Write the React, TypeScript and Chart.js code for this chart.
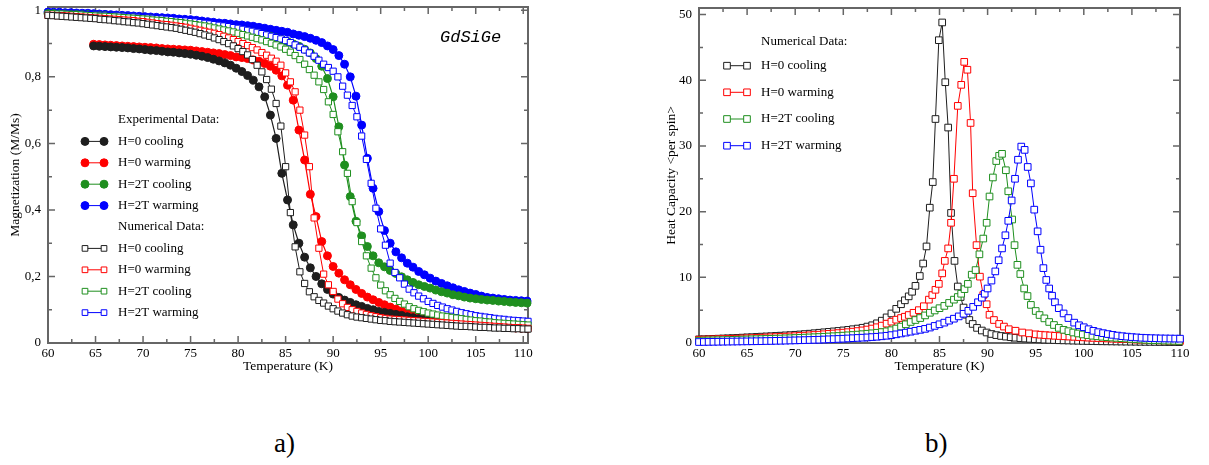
import React, { useEffect, useRef } from "react";
import { Chart, registerables } from "chart.js";

Chart.register(...registerables);

const SERIF = '"Liberation Serif", "Times New Roman", serif';
const MONO = '"Liberation Mono", "DejaVu Sans Mono", monospace';
const AXIS = "#666666";
const BLACK = "#1e1e1e";
const RED = "#ff0000";
const GREEN = "#1f8f1f";
const BLUE = "#0000ff";

// ---------- axes ----------
const xTickValues = [60, 65, 70, 75, 80, 85, 90, 95, 100, 105, 110];
const xMinorValues = [62.5, 67.5, 72.5, 77.5, 82.5, 87.5, 92.5, 97.5, 102.5, 107.5];
const yTickValuesA = [0, 0.2, 0.4, 0.6, 0.8, 1];
const yTickLabelsA = ["0", "0,2", "0,4", "0,6", "0,8", "1"];
const yMinorValuesA = [0.1, 0.3, 0.5, 0.7, 0.9];
const yTickValuesB = [0, 10, 20, 30, 40, 50];
const yTickLabelsB = ["0", "10", "20", "30", "40", "50"];
const yMinorValuesB = [5, 15, 25, 35, 45];

const seriesNames = ["H=0 cooling", "H=0 warming", "H=2T cooling", "H=2T warming"];

// ---------- panel a: experimental (filled circles) ----------
const tempExp = [
  60.0, 60.6, 61.2, 61.8, 62.4, 63.0, 63.6, 64.2, 64.8, 65.4,
  66.0, 66.6, 67.2, 67.8, 68.4, 69.0, 69.6, 70.2, 70.8, 71.4,
  72.0, 72.6, 73.2, 73.8, 74.4, 75.0, 75.6, 76.2, 76.8, 77.4,
  78.0, 78.6, 79.2, 79.8, 80.4, 81.0, 81.6, 82.2, 82.8, 83.4,
  84.0, 84.6, 85.2, 85.8, 86.4, 87.0, 87.6, 88.2, 88.8, 89.4,
  90.0, 90.6, 91.2, 91.8, 92.4, 93.0, 93.6, 94.2, 94.8, 95.4,
  96.0, 96.6, 97.2, 97.8, 98.4, 99.0, 99.6, 100.2, 100.8, 101.4,
  102.0, 102.6, 103.2, 103.8, 104.4, 105.0, 105.6, 106.2, 106.8, 107.4,
  108.0, 108.6, 109.2, 109.8, 110.4,
];
// H=0 series start at 64.8 K
const tempExpH0 = [
  64.8, 65.4, 66.0, 66.6, 67.2, 67.8, 68.4, 69.0, 69.6, 70.2,
  70.8, 71.4, 72.0, 72.6, 73.2, 73.8, 74.4, 75.0, 75.6, 76.2,
  76.8, 77.4, 78.0, 78.6, 79.2, 79.8, 80.4, 81.0, 81.6, 82.2,
  82.8, 83.4, 84.0, 84.6, 85.2, 85.8, 86.4, 87.0, 87.6, 88.2,
  88.8, 89.4, 90.0, 90.6, 91.2, 91.8, 92.4, 93.0, 93.6, 94.2,
  94.8, 95.4, 96.0, 96.6, 97.2, 97.8, 98.4, 99.0, 99.6, 100.2,
  100.8, 101.4, 102.0, 102.6, 103.2, 103.8, 104.4, 105.0, 105.6, 106.2,
  106.8, 107.4, 108.0, 108.6, 109.2, 109.8, 110.4,
];
const expH0Cooling = [
  0.893, 0.892, 0.891, 0.890, 0.889, 0.888, 0.887, 0.885, 0.884, 0.882,
  0.880, 0.879, 0.877, 0.875, 0.874, 0.872, 0.870, 0.868, 0.865, 0.862,
  0.858, 0.853, 0.848, 0.842, 0.835, 0.826, 0.816, 0.804, 0.790, 0.770,
  0.740, 0.685, 0.615, 0.510, 0.430, 0.355, 0.300, 0.258, 0.226, 0.200,
  0.178, 0.161, 0.147, 0.137, 0.129, 0.122, 0.115, 0.110, 0.104, 0.100,
  0.095, 0.092, 0.089, 0.086, 0.083, 0.079, 0.076, 0.073, 0.071, 0.068,
  0.066, 0.064, 0.062, 0.060, 0.058, 0.057, 0.055, 0.054, 0.052, 0.051,
  0.050, 0.049, 0.048, 0.047, 0.046, 0.045, 0.044,
];
const expH0Warming = [
  0.898, 0.897, 0.896, 0.895, 0.894, 0.893, 0.892, 0.891, 0.890, 0.889,
  0.888, 0.887, 0.885, 0.884, 0.883, 0.882, 0.881, 0.880, 0.878, 0.876,
  0.874, 0.872, 0.870, 0.867, 0.864, 0.860, 0.858, 0.855, 0.851, 0.847,
  0.840, 0.832, 0.820, 0.803, 0.775, 0.730, 0.640, 0.550, 0.447, 0.380,
  0.305, 0.262, 0.230, 0.210, 0.190, 0.175, 0.161, 0.149, 0.138, 0.130,
  0.122, 0.115, 0.108, 0.102, 0.096, 0.091, 0.086, 0.081, 0.077, 0.074,
  0.071, 0.068, 0.065, 0.063, 0.061, 0.059, 0.057, 0.055, 0.053, 0.052,
  0.050, 0.049, 0.047, 0.046, 0.045, 0.044, 0.043,
];
const exp2TCooling = [
  0.990, 0.990, 0.989, 0.989, 0.988, 0.988, 0.987, 0.987, 0.986, 0.985,
  0.984, 0.983, 0.982, 0.981, 0.980, 0.979, 0.977, 0.976, 0.975, 0.973,
  0.972, 0.970, 0.968, 0.966, 0.964, 0.962, 0.960, 0.958, 0.956, 0.954,
  0.952, 0.949, 0.946, 0.943, 0.940, 0.937, 0.934, 0.930, 0.926, 0.922,
  0.917, 0.912, 0.906, 0.899, 0.892, 0.883, 0.872, 0.855, 0.832, 0.795,
  0.740, 0.650, 0.535, 0.440, 0.366, 0.322, 0.290, 0.262, 0.241, 0.229,
  0.218, 0.209, 0.199, 0.190, 0.182, 0.175, 0.170, 0.165, 0.159, 0.154,
  0.150, 0.145, 0.142, 0.138, 0.135, 0.133, 0.131, 0.129, 0.128, 0.126,
  0.125, 0.123, 0.122, 0.121, 0.120,
];
const exp2TWarming = [
  0.995, 0.994, 0.994, 0.993, 0.993, 0.992, 0.991, 0.991, 0.990, 0.989,
  0.988, 0.987, 0.986, 0.985, 0.984, 0.983, 0.982, 0.981, 0.980, 0.979,
  0.978, 0.977, 0.976, 0.974, 0.973, 0.972, 0.970, 0.968, 0.966, 0.964,
  0.962, 0.961, 0.959, 0.957, 0.956, 0.954, 0.952, 0.949, 0.946, 0.943,
  0.940, 0.937, 0.934, 0.929, 0.925, 0.921, 0.916, 0.910, 0.903, 0.893,
  0.882, 0.864, 0.838, 0.800, 0.742, 0.655, 0.555, 0.465, 0.395, 0.338,
  0.300, 0.274, 0.256, 0.240, 0.228, 0.215, 0.205, 0.195, 0.186, 0.179,
  0.172, 0.166, 0.160, 0.155, 0.150, 0.146, 0.141, 0.137, 0.135, 0.133,
  0.131, 0.129, 0.128, 0.127, 0.126,
];

// ---------- panel a: numerical (open squares) ----------
const tempNum = [
  60, 60.5, 61, 61.5, 62, 62.5, 63, 63.5, 64, 64.5,
  65, 65.5, 66, 66.5, 67, 67.5, 68, 68.5, 69, 69.5,
  70, 70.5, 71, 71.5, 72, 72.5, 73, 73.5, 74, 74.5,
  75, 75.5, 76, 76.5, 77, 77.5, 78, 78.5, 79, 79.5,
  80, 80.5, 81, 81.5, 82, 82.5, 83, 83.5, 84, 84.5,
  85, 85.5, 86, 86.5, 87, 87.5, 88, 88.5, 89, 89.5,
  90, 90.5, 91, 91.5, 92, 92.5, 93, 93.5, 94, 94.5,
  95, 95.5, 96, 96.5, 97, 97.5, 98, 98.5, 99, 99.5,
  100, 100.5, 101, 101.5, 102, 102.5, 103, 103.5, 104, 104.5,
  105, 105.5, 106, 106.5, 107, 107.5, 108, 108.5, 109, 109.5,
  110, 110.5,
];
const numH0Cooling = [
  0.985, 0.984, 0.983, 0.982, 0.981, 0.980, 0.979, 0.978, 0.977, 0.976,
  0.975, 0.973, 0.972, 0.971, 0.969, 0.968, 0.966, 0.965, 0.963, 0.962,
  0.960, 0.958, 0.956, 0.954, 0.952, 0.950, 0.948, 0.946, 0.943, 0.940,
  0.937, 0.934, 0.930, 0.926, 0.922, 0.917, 0.912, 0.906, 0.900, 0.893,
  0.885, 0.876, 0.866, 0.852, 0.835, 0.815, 0.792, 0.763, 0.720, 0.652,
  0.530, 0.392, 0.289, 0.214, 0.179, 0.154, 0.139, 0.128, 0.120, 0.111,
  0.103, 0.096, 0.090, 0.085, 0.081, 0.078, 0.076, 0.074, 0.072, 0.070,
  0.068, 0.067, 0.065, 0.064, 0.063, 0.062, 0.061, 0.060, 0.059, 0.058,
  0.057, 0.056, 0.055, 0.054, 0.053, 0.052, 0.051, 0.050, 0.050, 0.049,
  0.048, 0.047, 0.047, 0.046, 0.045, 0.045, 0.044, 0.044, 0.043, 0.043,
  0.042, 0.042,
];
const numH0Warming = [
  0.985, 0.985, 0.984, 0.984, 0.983, 0.982, 0.981, 0.980, 0.979, 0.978,
  0.977, 0.976, 0.975, 0.974, 0.973, 0.972, 0.971, 0.970, 0.969, 0.967,
  0.966, 0.964, 0.962, 0.960, 0.958, 0.957, 0.955, 0.953, 0.951, 0.949,
  0.946, 0.943, 0.940, 0.937, 0.934, 0.931, 0.927, 0.922, 0.917, 0.912,
  0.906, 0.900, 0.894, 0.888, 0.881, 0.873, 0.865, 0.856, 0.847, 0.835,
  0.812, 0.785, 0.755, 0.700, 0.625, 0.530, 0.376, 0.285, 0.207, 0.175,
  0.155, 0.132, 0.118, 0.107, 0.100, 0.095, 0.090, 0.086, 0.082, 0.079,
  0.076, 0.074, 0.072, 0.071, 0.070, 0.069, 0.068, 0.067, 0.066, 0.065,
  0.064, 0.063, 0.062, 0.061, 0.060, 0.059, 0.058, 0.057, 0.056, 0.055,
  0.054, 0.053, 0.052, 0.051, 0.050, 0.049, 0.048, 0.047, 0.046, 0.046,
  0.045, 0.044,
];
const num2TCooling = [
  0.990, 0.990, 0.989, 0.989, 0.988, 0.987, 0.987, 0.986, 0.985, 0.984,
  0.983, 0.982, 0.982, 0.981, 0.980, 0.979, 0.978, 0.977, 0.976, 0.975,
  0.974, 0.973, 0.971, 0.970, 0.969, 0.967, 0.966, 0.964, 0.963, 0.961,
  0.959, 0.957, 0.955, 0.953, 0.950, 0.947, 0.944, 0.941, 0.938, 0.935,
  0.931, 0.927, 0.923, 0.919, 0.915, 0.911, 0.906, 0.901, 0.896, 0.890,
  0.883, 0.874, 0.864, 0.852, 0.838, 0.822, 0.805, 0.785, 0.762, 0.725,
  0.687, 0.635, 0.575, 0.510, 0.425, 0.362, 0.305, 0.262, 0.225, 0.196,
  0.174, 0.157, 0.145, 0.134, 0.125, 0.117, 0.109, 0.103, 0.098, 0.094,
  0.090, 0.087, 0.084, 0.081, 0.079, 0.077, 0.075, 0.073, 0.071, 0.069,
  0.067, 0.066, 0.064, 0.063, 0.061, 0.060, 0.059, 0.058, 0.057, 0.056,
  0.055, 0.054,
];
const num2TWarming = [
  0.990, 0.990, 0.990, 0.989, 0.989, 0.988, 0.988, 0.988, 0.987, 0.987,
  0.986, 0.985, 0.985, 0.984, 0.983, 0.983, 0.982, 0.981, 0.980, 0.979,
  0.978, 0.977, 0.976, 0.975, 0.974, 0.973, 0.972, 0.970, 0.969, 0.968,
  0.966, 0.965, 0.963, 0.961, 0.959, 0.957, 0.955, 0.953, 0.951, 0.948,
  0.946, 0.943, 0.940, 0.937, 0.934, 0.930, 0.926, 0.922, 0.918, 0.914,
  0.909, 0.903, 0.896, 0.889, 0.881, 0.872, 0.862, 0.850, 0.838, 0.828,
  0.817, 0.800, 0.772, 0.745, 0.714, 0.680, 0.622, 0.552, 0.480, 0.405,
  0.343, 0.294, 0.240, 0.212, 0.196, 0.177, 0.162, 0.151, 0.141, 0.133,
  0.125, 0.119, 0.113, 0.108, 0.103, 0.099, 0.095, 0.091, 0.088, 0.085,
  0.082, 0.080, 0.078, 0.076, 0.074, 0.072, 0.071, 0.069, 0.068, 0.067,
  0.066, 0.065,
];

// ---------- panel b: heat capacity (open squares) ----------
const tempHeatH0Cooling = [
  60, 60.5, 61, 61.5, 62, 62.5, 63, 63.5, 64, 64.5,
  65, 65.5, 66, 66.5, 67, 67.5, 68, 68.5, 69, 69.5,
  70, 70.5, 71, 71.5, 72, 72.5, 73, 73.5, 74, 74.5,
  75, 75.5, 76, 76.5, 77, 77.5, 78, 78.5, 79, 79.5,
  80, 80.5, 81, 81.4, 81.8, 82.15, 82.5, 82.95, 83.3, 83.65,
  83.99, 84.3, 84.58, 84.93, 85.28, 85.6, 85.9, 86.2, 86.56, 86.9,
  87.2, 87.5, 87.8, 88.1, 88.45, 88.9, 89.4, 89.9, 90.4, 90.9,
  91.4, 91.9, 92.4, 92.9, 93.4, 93.9, 94.4, 94.9, 95.4, 95.9,
  96.4, 96.9, 97.4, 97.9, 98.4, 98.9, 99.4, 99.9, 100.4, 100.9,
  101.4, 101.9, 102.4, 102.9, 103.4, 103.9, 104.4, 104.9, 105.4, 105.9,
  106.4, 106.9, 107.4, 107.9, 108.4, 108.9, 109.4, 109.9,
];
const heatH0Cooling = [
  0.55, 0.58, 0.60, 0.63, 0.66, 0.69, 0.72, 0.75, 0.78, 0.82,
  0.86, 0.89, 0.93, 0.97, 1.00, 1.04, 1.08, 1.12, 1.16, 1.20,
  1.25, 1.30, 1.36, 1.42, 1.49, 1.56, 1.63, 1.70, 1.77, 1.84,
  1.92, 2.00, 2.10, 2.20, 2.32, 2.50, 2.70, 3.00, 3.40, 3.90,
  4.50, 5.20, 5.90, 6.50, 7.10, 7.80, 8.70, 10.2, 12.1, 14.7,
  20.6, 24.5, 34.1, 46.1, 48.8, 39.7, 32.8, 19.8, 12.5, 8.6,
  7.0, 5.4, 4.3, 3.5, 2.9, 2.3, 1.9, 1.6, 1.37, 1.2,
  1.07, 0.97, 0.88, 0.80, 0.74, 0.68, 0.63, 0.59, 0.55, 0.51,
  0.48, 0.45, 0.42, 0.40, 0.38, 0.36, 0.34, 0.32, 0.30, 0.29,
  0.27, 0.26, 0.25, 0.24, 0.23, 0.22, 0.21, 0.20, 0.19, 0.18,
  0.17, 0.17, 0.16, 0.15, 0.15, 0.14, 0.14, 0.13,
];
const tempHeatH0Warming = [
  60, 60.5, 61, 61.5, 62, 62.5, 63, 63.5, 64, 64.5,
  65, 65.5, 66, 66.5, 67, 67.5, 68, 68.5, 69, 69.5,
  70, 70.5, 71, 71.5, 72, 72.5, 73, 73.5, 74, 74.5,
  75, 75.5, 76, 76.5, 77, 77.5, 78, 78.5, 79, 79.5,
  80, 80.5, 81, 81.4, 81.8, 82.3, 82.85, 83.37, 83.9, 84.25,
  84.58, 84.93, 85.28, 85.55, 85.9, 86.2, 86.5, 86.9, 87.26, 87.57,
  87.9, 88.23, 88.45, 88.85, 89.2, 89.55, 89.9, 90.2, 90.66, 91.2,
  91.7, 92.2, 92.9, 93.6, 94.3, 95, 95.5, 96, 96.5, 97,
  97.5, 98, 98.5, 99, 99.5, 100, 100.5, 101, 101.5, 102,
  102.5, 103, 103.5, 104, 104.5, 105, 105.5, 106, 106.5, 107,
  107.5, 108, 108.5, 109, 109.5, 110,
];
const heatH0Warming = [
  0.50, 0.52, 0.54, 0.56, 0.58, 0.60, 0.62, 0.64, 0.66, 0.69,
  0.72, 0.75, 0.78, 0.81, 0.84, 0.87, 0.90, 0.93, 0.97, 1.00,
  1.04, 1.08, 1.12, 1.17, 1.22, 1.27, 1.33, 1.39, 1.45, 1.51,
  1.58, 1.65, 1.73, 1.82, 1.92, 2.05, 2.20, 2.40, 2.65, 2.95,
  3.25, 3.55, 3.80, 4.00, 4.26, 4.60, 5.00, 5.60, 6.60, 7.30,
  8.10, 9.00, 10.6, 12.5, 14.4, 18.3, 25.0, 36.1, 39.3, 42.8,
  41.6, 33.5, 22.8, 14.9, 10.1, 7.3, 5.9, 4.3, 3.5, 2.9,
  2.5, 2.1, 1.87, 1.60, 1.47, 1.32, 1.26, 1.20, 1.15, 1.10,
  1.06, 1.02, 0.98, 0.94, 0.90, 0.86, 0.82, 0.78, 0.75, 0.72,
  0.69, 0.66, 0.63, 0.60, 0.58, 0.55, 0.52, 0.50, 0.47, 0.45,
  0.42, 0.40, 0.38, 0.35, 0.33, 0.30,
];
const tempHeat2TCooling = [
  60, 60.5, 61, 61.5, 62, 62.5, 63, 63.5, 64, 64.5,
  65, 65.5, 66, 66.5, 67, 67.5, 68, 68.5, 69, 69.5,
  70, 70.5, 71, 71.5, 72, 72.5, 73, 73.5, 74, 74.5,
  75, 75.5, 76, 76.5, 77, 77.5, 78, 78.5, 79, 79.5,
  80, 80.5, 81, 81.5, 82, 82.5, 83, 83.5, 84, 84.5,
  85, 85.5, 86, 86.5, 86.9, 87.25, 87.6, 87.95, 88.35, 88.75,
  89.15, 89.55, 89.9, 90.2, 90.55, 90.9, 91.2, 91.5, 91.9, 92.15,
  92.55, 92.8, 93.1, 93.4, 93.8, 94.15, 94.5, 95, 95.4, 95.9,
  96.4, 96.9, 97.4, 97.9, 98.4, 98.9, 99.4, 99.9, 100.4, 100.9,
  101.4, 101.9, 102.4, 102.9, 103.4, 103.9, 104.4, 104.9, 105.4, 105.9,
  106.4, 106.9, 107.4, 107.9, 108.4, 108.9, 109.4, 109.9,
];
const heat2TCooling = [
  0.35, 0.37, 0.39, 0.40, 0.42, 0.44, 0.46, 0.48, 0.50, 0.52,
  0.54, 0.56, 0.58, 0.60, 0.62, 0.64, 0.66, 0.68, 0.71, 0.73,
  0.76, 0.79, 0.82, 0.85, 0.88, 0.91, 0.95, 0.99, 1.03, 1.07,
  1.12, 1.17, 1.22, 1.28, 1.34, 1.41, 1.48, 1.56, 1.66, 1.78,
  1.95, 2.20, 2.50, 2.85, 3.20, 3.50, 3.80, 4.20, 4.60, 4.95,
  5.30, 5.65, 6.10, 6.60, 7.00, 7.50, 8.20, 9.00, 10.4, 11.1,
  13.5, 15.9, 18.3, 22.3, 25.2, 27.7, 28.5, 28.8, 26.3, 23.1,
  18.8, 14.9, 11.9, 10.5, 8.3, 7.15, 5.8, 4.87, 4.26, 3.75,
  3.20, 2.74, 2.30, 2.00, 1.80, 1.60, 1.45, 1.30, 1.20, 1.10,
  1.02, 0.95, 0.89, 0.83, 0.78, 0.73, 0.68, 0.62, 0.57, 0.53,
  0.49, 0.45, 0.42, 0.40, 0.37, 0.35, 0.33, 0.31,
];
const tempHeat2TWarming = [
  60, 60.5, 61, 61.5, 62, 62.5, 63, 63.5, 64, 64.5,
  65, 65.5, 66, 66.5, 67, 67.5, 68, 68.5, 69, 69.5,
  70, 70.5, 71, 71.5, 72, 72.5, 73, 73.5, 74, 74.5,
  75, 75.5, 76, 76.5, 77, 77.5, 78, 78.5, 79, 79.5,
  80, 80.5, 81, 81.5, 82, 82.5, 83, 83.5, 84, 84.5,
  85, 85.5, 86, 86.5, 87, 87.5, 88, 88.5, 89, 89.4,
  89.7, 90.0, 90.4, 90.8, 91.15, 91.5, 91.85, 92.15, 92.5, 92.85,
  93.16, 93.5, 93.85, 94.17, 94.5, 94.85, 95.2, 95.5, 95.8, 96.1,
  96.4, 96.7, 97.0, 97.4, 97.9, 98.4, 99.0, 99.5, 100, 100.5,
  101, 101.5, 102, 102.5, 103, 103.5, 104, 104.5, 105, 105.5,
  106, 106.5, 107, 107.5, 108, 108.5, 109, 109.5, 110,
];
const heat2TWarming = [
  0.15, 0.16, 0.17, 0.18, 0.19, 0.20, 0.21, 0.22, 0.23, 0.24,
  0.25, 0.26, 0.27, 0.28, 0.30, 0.31, 0.33, 0.34, 0.36, 0.38,
  0.40, 0.42, 0.44, 0.46, 0.48, 0.50, 0.53, 0.56, 0.59, 0.62,
  0.65, 0.69, 0.73, 0.77, 0.81, 0.85, 0.90, 0.95, 1.02, 1.10,
  1.20, 1.32, 1.45, 1.58, 1.72, 1.86, 2.00, 2.15, 2.35, 2.60,
  2.85, 3.10, 3.40, 3.70, 4.05, 4.45, 4.90, 5.50, 6.20, 6.90,
  7.50, 8.30, 9.50, 10.9, 12.6, 14.4, 16.4, 18.6, 21.7, 25.0,
  27.9, 29.9, 29.4, 26.8, 24.3, 20.3, 17.0, 14.2, 11.4, 9.6,
  8.3, 7.2, 6.2, 5.3, 4.5, 3.8, 3.1, 2.7, 2.4, 2.1,
  1.85, 1.65, 1.50, 1.36, 1.24, 1.13, 1.04, 0.97, 0.90, 0.85,
  0.80, 0.77, 0.74, 0.72, 0.70, 0.69, 0.68, 0.67, 0.66,
];

// ---------- helpers ----------
const pts = (xs: number[], ys: number[]) => ys.map((y, i) => ({ x: xs[i], y }));

function drawMarker(ctx: CanvasRenderingContext2D, marker: string, x: number, y: number, r: number, color: string) {
  ctx.beginPath();
  if (marker === "circle") {
    ctx.arc(x, y, r, 0, Math.PI * 2);
    ctx.fillStyle = color;
    ctx.fill();
    ctx.strokeStyle = color;
    ctx.lineWidth = 1;
    ctx.stroke();
  } else {
    const s = r * Math.SQRT1_2;
    ctx.rect(x - s, y - s, 2 * s, 2 * s);
    ctx.fillStyle = "#ffffff";
    ctx.fill();
    ctx.strokeStyle = color;
    ctx.lineWidth = 1;
    ctx.stroke();
  }
}

function framePlugin(id: string, xMaj: number[], xMin: number[], yMaj: number[], yMin: number[]) {
  return {
    id,
    beforeDatasetsDraw(chart: any) {
      const { ctx, chartArea } = chart;
      const { left, right, top, bottom } = chartArea;
      const xs = chart.scales.x;
      const ys = chart.scales.y;
      const MAJ = 7;
      const MIN = 4;
      ctx.save();
      ctx.strokeStyle = AXIS;
      ctx.lineWidth = 1.5;
      ctx.beginPath();
      const xt = (v: number, len: number) => {
        const p = xs.getPixelForValue(v);
        ctx.moveTo(p, bottom);
        ctx.lineTo(p, bottom - len);
        ctx.moveTo(p, top);
        ctx.lineTo(p, top + len);
      };
      const yt = (v: number, len: number) => {
        const p = ys.getPixelForValue(v);
        ctx.moveTo(left, p);
        ctx.lineTo(left + len, p);
        ctx.moveTo(right, p);
        ctx.lineTo(right - len, p);
      };
      xMaj.forEach((v) => xt(v, MAJ));
      xMin.forEach((v) => xt(v, MIN));
      yMaj.forEach((v) => yt(v, MAJ));
      yMin.forEach((v) => yt(v, MIN));
      ctx.stroke();
      ctx.lineWidth = 2;
      ctx.strokeRect(left, top, right - left, bottom - top);
      ctx.restore();
    },
  };
}

type LegendRow = { text: string; color?: string; marker?: string };

function legendPlugin(id: string, rows: LegendRow[], rowY: number[], x1: number, x2: number, tx: number, r: number, extra?: (ctx: CanvasRenderingContext2D) => void) {
  return {
    id,
    afterDraw(chart: any) {
      const ctx: CanvasRenderingContext2D = chart.ctx;
      ctx.save();
      rows.forEach((row, i) => {
        const y = rowY[i];
        if (row.color) {
          ctx.beginPath();
          ctx.strokeStyle = row.color;
          ctx.lineWidth = 1;
          ctx.moveTo(x1, y);
          ctx.lineTo(x2, y);
          ctx.stroke();
          drawMarker(ctx, row.marker || "rect", x1, y, r, row.color);
          drawMarker(ctx, row.marker || "rect", x2, y, r, row.color);
        }
        ctx.fillStyle = "#000";
        ctx.font = `13px ${SERIF}`;
        ctx.textBaseline = "middle";
        ctx.textAlign = "left";
        ctx.fillText(row.text, tx, y);
      });
      if (extra) extra(ctx);
      ctx.restore();
    },
  };
}

function xScale(max: number) {
  return {
    type: "linear",
    min: 60,
    max,
    grid: { display: false, drawTicks: false },
    border: { display: false },
    afterBuildTicks: (s: any) => {
      s.ticks = xTickValues.map((v) => ({ value: v }));
    },
    afterFit: (s: any) => {
      s.height = 32;
      s.paddingLeft = 0;
      s.paddingRight = 0;
    },
    ticks: {
      autoSkip: false,
      maxRotation: 0,
      padding: 3,
      color: "#000",
      font: { family: SERIF, size: 13 },
      callback: (v: any) => String(v),
    },
    title: {
      display: true,
      text: "Temperature (K)",
      color: "#000",
      font: { family: SERIF, size: 13.5 },
      padding: { top: 0, bottom: 0 },
    },
  };
}

function yScale(max: number, values: number[], labels: string[], width: number, title: string, titlePad: number) {
  return {
    type: "linear",
    min: 0,
    max,
    grid: { display: false, drawTicks: false },
    border: { display: false },
    afterBuildTicks: (s: any) => {
      s.ticks = values.map((v) => ({ value: v }));
    },
    afterFit: (s: any) => {
      s.width = width;
      s.paddingTop = 0;
      s.paddingBottom = 0;
    },
    ticks: {
      autoSkip: false,
      padding: 7,
      color: "#000",
      font: { family: SERIF, size: 13 },
      callback: (_v: any, i: number) => labels[i],
    },
    title: {
      display: true,
      text: title,
      color: "#000",
      font: { family: SERIF, size: 13.5 },
      padding: { top: titlePad, bottom: 0 },
    },
  };
}

const colors = [BLACK, RED, GREEN, BLUE];

function configA() {
  const expSets = [
    pts(tempExpH0, expH0Cooling),
    pts(tempExpH0, expH0Warming),
    pts(tempExp, exp2TCooling),
    pts(tempExp, exp2TWarming),
  ];
  const numSets = [
    pts(tempNum, numH0Cooling),
    pts(tempNum, numH0Warming),
    pts(tempNum, num2TCooling),
    pts(tempNum, num2TWarming),
  ];
  const datasets: any[] = [];
  numSets.forEach((d, i) =>
    datasets.push({
      label: "Numerical " + seriesNames[i],
      data: d,
      showLine: true,
      borderColor: colors[i],
      borderWidth: 1,
      pointStyle: "rect",
      pointRadius: 4.4,
      pointBackgroundColor: "#ffffff",
      pointBorderColor: colors[i],
      pointBorderWidth: 1,
      order: 0,
      clip: false,
    })
  );
  expSets.forEach((d, i) =>
    datasets.push({
      label: "Experimental " + seriesNames[i],
      data: d,
      showLine: true,
      borderColor: colors[i],
      borderWidth: 1.2,
      pointStyle: "circle",
      pointRadius: 4,
      pointBackgroundColor: colors[i],
      pointBorderColor: colors[i],
      pointBorderWidth: 1,
      order: 1,
      clip: false,
    })
  );
  const rows: LegendRow[] = [
    { text: "Experimental Data:" },
    ...seriesNames.map((t, i) => ({ text: t, color: colors[i], marker: "circle" })),
    { text: "Numerical Data:" },
    ...seriesNames.map((t, i) => ({ text: t, color: colors[i], marker: "rect" })),
  ];
  const rowY = [120, 141.4, 162.8, 184.2, 205.6, 227, 248.4, 269.8, 291.2, 312.6];
  return {
    type: "scatter",
    data: { datasets },
    options: {
      responsive: false,
      animation: false,
      devicePixelRatio: 1,
      layout: { padding: { left: 0, top: 7, right: 72, bottom: 25 } },
      plugins: { legend: { display: false }, tooltip: { enabled: false } },
      elements: { line: { tension: 0 } },
      scales: {
        x: xScale(110.5),
        y: yScale(1.01, yTickValuesA, yTickLabelsA, 48, "Magnetization (M/Ms)", 6.9),
      },
    },
    plugins: [
      framePlugin("frameA", xTickValues, xMinorValues, yTickValuesA, yMinorValuesA),
      legendPlugin("legendA", rows, rowY, 85, 104, 118, 4, (ctx) => {
        ctx.font = `italic 17px ${MONO}`;
        ctx.fillStyle = "#000";
        ctx.textBaseline = "alphabetic";
        ctx.textAlign = "left";
        ctx.fillText("GdSiGe", 440, 42);
      }),
    ],
  };
}

function configB() {
  const sets = [
    pts(tempHeatH0Cooling, heatH0Cooling),
    pts(tempHeatH0Warming, heatH0Warming),
    pts(tempHeat2TCooling, heat2TCooling),
    pts(tempHeat2TWarming, heat2TWarming),
  ];
  const datasets = sets.map((d, i) => ({
    label: seriesNames[i],
    data: d,
    showLine: true,
    borderColor: colors[i],
    borderWidth: 1,
    pointStyle: "rect",
    pointRadius: 4.7,
    pointBackgroundColor: "#ffffff",
    pointBorderColor: colors[i],
    pointBorderWidth: 1,
    order: 3 - i,
    clip: false,
  }));
  const rows: LegendRow[] = [
    { text: "Numerical Data:" },
    ...seriesNames.map((t, i) => ({ text: t, color: colors[i], marker: "rect" })),
  ];
  const rowY = [41.7, 65.7, 92.3, 119, 145.7];
  return {
    type: "scatter",
    data: { datasets },
    options: {
      responsive: false,
      animation: false,
      devicePixelRatio: 1,
      layout: { padding: { left: 0, top: 8, right: 29, bottom: 25 } },
      plugins: { legend: { display: false }, tooltip: { enabled: false } },
      elements: { line: { tension: 0 } },
      scales: {
        x: xScale(110),
        y: yScale(51, yTickValuesB, yTickLabelsB, 89, "Heat Capacity <per spin>", 52.9),
      },
    },
    plugins: [
      framePlugin("frameB", xTickValues, xMinorValues, yTickValuesB, yMinorValuesB),
      legendPlugin("legendB", rows, rowY, 117, 137, 151, 4.7),
    ],
  };
}

function ChartCanvas({ make, left, width, height }: { make: () => any; left: number; width: number; height: number }) {
  const ref = useRef<HTMLCanvasElement>(null);
  useEffect(() => {
    const chart = new Chart(ref.current as HTMLCanvasElement, make());
    return () => chart.destroy();
  }, []);
  return (
    <canvas
      ref={ref}
      width={width}
      height={height}
      style={{ position: "absolute", left, top: 0, width, height }}
    />
  );
}

export default function App() {
  return (
    <div
      style={{
        position: "absolute",
        left: 0,
        top: 0,
        width: 1209,
        height: 465,
        background: "#ffffff",
        overflow: "hidden",
      }}
    >
      <ChartCanvas make={configA} left={0} width={600} height={400} />
      <ChartCanvas make={configB} left={610} width={599} height={400} />
      <div style={{ position: "absolute", left: 274, top: 427, fontFamily: SERIF, fontSize: 27, lineHeight: "32px", color: "#000" }}>
        a)
      </div>
      <div style={{ position: "absolute", left: 925, top: 427, fontFamily: SERIF, fontSize: 27, lineHeight: "32px", color: "#000" }}>
        b)
      </div>
    </div>
  );
}
